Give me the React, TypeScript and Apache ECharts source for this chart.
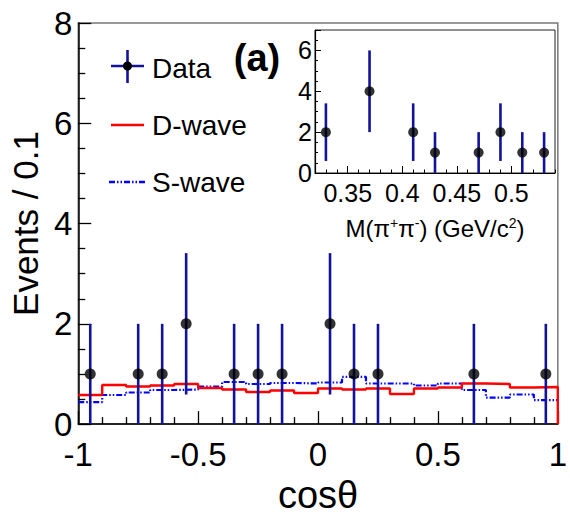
import React, { useEffect, useRef } from "react";
import * as echarts from "echarts";

// ---- main panel: cos(theta) distribution ----
const dataX = [-0.95, -0.75, -0.65, -0.55, -0.35, -0.25, -0.15, 0.05, 0.15, 0.25, 0.65, 0.95];
const dataY = [1, 1, 1, 2, 1, 1, 1, 2, 1, 1, 1, 1];
const dataErr = [1, 1, 1, 1.41, 1, 1, 1, 1.41, 1, 1, 1, 1];

const binEdges = [-1.0, -0.9, -0.8, -0.7, -0.6, -0.5, -0.4, -0.3, -0.2, -0.1, 0.0, 0.1, 0.2, 0.3, 0.4, 0.5, 0.6, 0.7, 0.8, 0.9, 1.0];
const dWave = [0.58, 0.78, 0.75, 0.77, 0.8, 0.72, 0.69, 0.64, 0.67, 0.62, 0.71, 0.69, 0.71, 0.6, 0.71, 0.73, 0.81, 0.8, 0.73, 0.74];
const sWave = [0.44, 0.58, 0.63, 0.68, 0.69, 0.75, 0.84, 0.8, 0.82, 0.81, 0.83, 0.94, 0.81, 0.81, 0.77, 0.81, 0.68, 0.53, 0.59, 0.48];

// ---- inset: M(pi+ pi-) distribution ----
const massX = [0.33, 0.37, 0.41, 0.43, 0.47, 0.49, 0.51, 0.53];
const massY = [2, 4, 2, 1, 1, 2, 1, 1];
const massErr = [1.41, 2, 1.41, 1, 1, 1.41, 1, 1];
const massTickLabels = [0.35, 0.4, 0.45, 0.5];
const insetYLabels = [0, 2, 4, 6];

const FONT = "'Liberation Sans', Arial, Helvetica, sans-serif";
const ERR_COLOR = "#12129a";

function histData(vals: number[], closeToZero: boolean) {
  const pts: number[][] = vals.map((v, i) => [binEdges[i], v]);
  pts.push([binEdges[binEdges.length - 1], vals[vals.length - 1]]);
  if (closeToZero) pts.push([binEdges[binEdges.length - 1], 0]);
  return pts;
}

function errorRender(params: any, api: any) {
  const x = api.value(0);
  const p1 = api.coord([x, api.value(1)]);
  const p2 = api.coord([x, api.value(2)]);
  return {
    type: "line",
    shape: { x1: p1[0], y1: p1[1], x2: p2[0], y2: p2[1] },
    style: { stroke: ERR_COLOR, lineWidth: 2.6 },
  };
}

export default function App() {
  const ref = useRef<HTMLDivElement>(null);
  useEffect(() => {
    if (!ref.current) return;
    const chart = echarts.init(ref.current, null, { renderer: "svg" });
    const option: any = {
      animation: false,
      backgroundColor: "#ffffff",
      textStyle: { fontFamily: FONT },
      grid: [
        { left: 75, top: 23, width: 484, height: 410, show: true, borderColor: "#777", borderWidth: 1.5, backgroundColor: "transparent" },
        { left: 315, top: 30, width: 240, height: 143, show: true, borderColor: "#222", borderWidth: 1, backgroundColor: "#ffffff" },
      ],
      xAxis: [
        {
          gridIndex: 0, type: "value", min: -1, max: 1, interval: 0.5,
          axisLine: { show: true, onZero: false, lineStyle: { color: "#000", width: 1.5 } },
          axisTick: { show: true, inside: true, length: 13, lineStyle: { color: "#000", width: 1.3 } },
          minorTick: { show: true, splitNumber: 5, length: 7, lineStyle: { color: "#000", width: 1.3 } },
          splitLine: { show: false },
          axisLabel: { fontSize: 33, color: "#000", margin: 14, fontFamily: FONT },
          name: "cosθ", nameLocation: "middle", nameGap: 48,
          nameTextStyle: { fontSize: 38, color: "#000", fontFamily: FONT },
        },
        {
          gridIndex: 1, type: "value", min: 0.32, max: 0.54, interval: 0.01,
          axisLine: { show: true, onZero: false, lineStyle: { color: "#000", width: 1.2 } },
          axisTick: { show: true, inside: true, length: 3.5, lineStyle: { color: "#000", width: 1 } },
          splitLine: { show: false },
          axisLabel: {
            fontSize: 25, color: "#000", margin: 7, fontFamily: FONT,
            formatter: (v: number) => {
              const k = Math.round(v * 100);
              return massTickLabels.some((t) => Math.round(t * 100) === k) ? String(k / 100) : "";
            },
          },
          name: "M(π{sup|+}π{sup|-}) (GeV/c{sup|2})", nameLocation: "middle", nameGap: 43,
          nameTextStyle: {
            fontSize: 24, color: "#000", fontFamily: FONT,
            rich: { sup: { fontSize: 14, verticalAlign: "top", color: "#000", fontFamily: FONT, padding: [0, 0, 10, 0] } },
          },
        },
        {
          gridIndex: 1, type: "value", min: 0.32, max: 0.54, position: "bottom",
          axisLine: { show: false, onZero: false },
          axisTick: { show: true, inside: true, length: 7, customValues: massTickLabels, lineStyle: { color: "#000", width: 1 } },
          axisLabel: { show: false },
          splitLine: { show: false },
        },
      ],
      yAxis: [
        {
          gridIndex: 0, type: "value", min: 0, max: 8, interval: 2,
          axisLine: { show: true, onZero: false, lineStyle: { color: "#000", width: 1.5 } },
          axisTick: { show: true, inside: true, length: 13, lineStyle: { color: "#000", width: 1.3 } },
          minorTick: { show: true, splitNumber: 4, length: 7, lineStyle: { color: "#000", width: 1.3 } },
          splitLine: { show: false },
          axisLabel: { fontSize: 33, color: "#000", margin: 6, fontFamily: FONT },
          name: "Events / 0.1", nameLocation: "middle", nameGap: 33, nameRotate: 90,
          nameTextStyle: { fontSize: 35, color: "#000", fontFamily: FONT },
        },
        {
          gridIndex: 1, type: "value", min: 0, max: 7, interval: 2,
          axisLine: { show: true, onZero: false, lineStyle: { color: "#000", width: 1.2 } },
          axisTick: { show: true, inside: true, length: 6, lineStyle: { color: "#000", width: 1 } },
          minorTick: { show: true, splitNumber: 4, length: 3, lineStyle: { color: "#000", width: 1 } },
          splitLine: { show: false },
          axisLabel: { fontSize: 25, color: "#000", margin: 3, fontFamily: FONT, customValues: insetYLabels },
        },
      ],
      series: [
        {
          type: "line", xAxisIndex: 0, yAxisIndex: 0, step: "end", symbol: "none",
          data: histData(sWave, false),
          lineStyle: { color: "#0000ff", width: 2.2, type: [6, 2, 1.5, 2, 1.5, 2] },
          z: 2,
        },
        {
          type: "line", xAxisIndex: 0, yAxisIndex: 0, step: "end", symbol: "none",
          data: histData(dWave, true),
          lineStyle: { color: "#ff0000", width: 2.4 },
          z: 3,
        },
        {
          type: "custom", xAxisIndex: 0, yAxisIndex: 0, renderItem: errorRender,
          encode: { x: 0, y: [1, 2] },
          data: dataX.map((x, i) => [x, dataY[i] - dataErr[i], dataY[i] + dataErr[i]]),
          z: 4,
        },
        {
          type: "scatter", xAxisIndex: 0, yAxisIndex: 0, symbol: "circle", symbolSize: 11,
          itemStyle: { color: "#000" },
          data: dataX.map((x, i) => [x, dataY[i]]),
          z: 5,
        },
        {
          type: "custom", xAxisIndex: 1, yAxisIndex: 1, renderItem: errorRender,
          encode: { x: 0, y: [1, 2] },
          data: massX.map((x, i) => [x, massY[i] - massErr[i], massY[i] + massErr[i]]),
          z: 14,
        },
        {
          type: "scatter", xAxisIndex: 1, yAxisIndex: 1, symbol: "circle", symbolSize: 10,
          itemStyle: { color: "#000" },
          data: massX.map((x, i) => [x, massY[i]]),
          z: 15,
        },
      ],
      graphic: [
        // legend: Data
        { type: "line", shape: { x1: 111, y1: 66, x2: 144, y2: 66 }, style: { stroke: ERR_COLOR, lineWidth: 2.6 }, z: 20 },
        { type: "line", shape: { x1: 127.5, y1: 50, x2: 127.5, y2: 83 }, style: { stroke: ERR_COLOR, lineWidth: 2.6 }, z: 20 },
        { type: "circle", shape: { cx: 127.5, cy: 66, r: 4.5 }, style: { fill: "#000" }, z: 21 },
        { type: "text", x: 152, y: 68, style: { text: "Data", fontSize: 28, fontFamily: FONT, fill: "#000", textVerticalAlign: "middle" }, z: 20 },
        // legend: D-wave
        { type: "line", shape: { x1: 111, y1: 125, x2: 144, y2: 125 }, style: { stroke: "#ff0000", lineWidth: 2.4 }, z: 20 },
        { type: "text", x: 152, y: 125, style: { text: "D-wave", fontSize: 28, fontFamily: FONT, fill: "#000", textVerticalAlign: "middle" }, z: 20 },
        // legend: S-wave
        { type: "line", shape: { x1: 109, y1: 182, x2: 146, y2: 182 }, style: { stroke: "#0000ff", lineWidth: 2.4, lineDash: [6, 2, 1.5, 2, 1.5, 2] }, z: 20 },
        { type: "text", x: 152, y: 182, style: { text: "S-wave", fontSize: 28, fontFamily: FONT, fill: "#000", textVerticalAlign: "middle" }, z: 20 },
        // panel label
        { type: "text", x: 257, y: 58, style: { text: "(a)", fontSize: 38, fontWeight: "bold", fontFamily: FONT, fill: "#000", textAlign: "center", textVerticalAlign: "middle" }, z: 20 },
      ],
    };
    chart.setOption(option);
    return () => chart.dispose();
  }, []);
  return <div ref={ref} style={{ position: "fixed", left: 0, top: 0, width: 570, height: 519 }} />;
}
